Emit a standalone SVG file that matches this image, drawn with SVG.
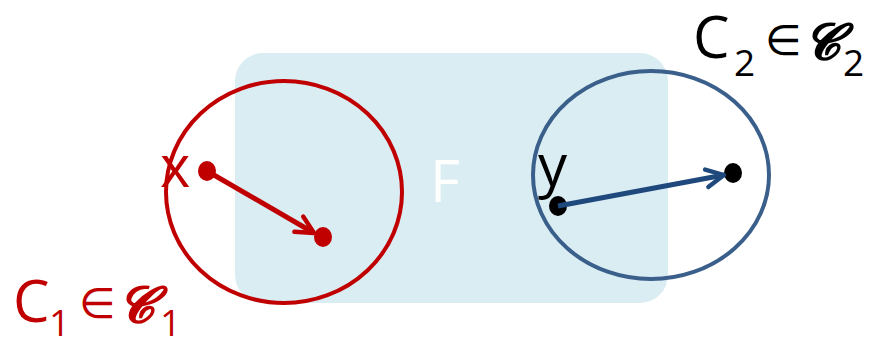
<svg xmlns="http://www.w3.org/2000/svg" width="877" height="340" viewBox="0 0 877 340">
<defs>
<style>
.lbl{font-family:"Open Sans","Liberation Sans",sans-serif;font-size:58px}
.red{fill:#C00000}
.blk{fill:#000}
.sub{font-size:37px}
.el{font-family:"DejaVu Sans",sans-serif;font-size:42px}
.scr{font-family:"DejaVu Serif","Noto Sans",serif;font-weight:bold;font-style:italic;font-size:50px}
</style>
<marker id="ahr" viewBox="0 0 20 20" refX="18" refY="10" markerWidth="22" markerHeight="22" markerUnits="userSpaceOnUse" orient="auto" overflow="visible">
<path d="M2,2 L18,10 L2,18" fill="none" stroke="#C00000" stroke-width="4" stroke-linecap="round" stroke-linejoin="round"/>
</marker>
<marker id="ahb" viewBox="0 0 20 20" refX="18" refY="10" markerWidth="22" markerHeight="22" markerUnits="userSpaceOnUse" orient="auto" overflow="visible">
<path d="M2,2 L18,10 L2,18" fill="none" stroke="#1F497D" stroke-width="4" stroke-linecap="round" stroke-linejoin="round"/>
</marker>
</defs>
<rect width="877" height="340" fill="#fff"/>
<g id="F">
<rect x="235" y="53" width="433" height="250" rx="28" fill="#DAEDF3"/>
<text x="430" y="202" class="lbl" fill="#fff" font-size="62">F</text>
</g>
<g id="C1">
<ellipse cx="284" cy="192" rx="118" ry="111" fill="none" stroke="#C00000" stroke-width="4"/>
<text x="160" y="187" class="lbl red" font-size="62">x</text>
<ellipse cx="207" cy="171" rx="9" ry="10" class="red"/>
<ellipse cx="323" cy="237" rx="9" ry="10" class="red"/>
</g>
<g id="C2">
<ellipse cx="651" cy="175" rx="118" ry="104" fill="none" stroke="#3A5F8B" stroke-width="4"/>
<text x="538" y="186" class="lbl blk" font-size="62">y</text>
<ellipse cx="558" cy="206" rx="9" ry="10" class="blk"/>
<ellipse cx="733" cy="173" rx="9" ry="10" class="blk"/>
</g>
<g id="connectors">
<line x1="207" y1="171" x2="314" y2="233" stroke="#C00000" stroke-width="5" marker-end="url(#ahr)"/>
<line x1="558" y1="206" x2="724" y2="175" stroke="#1F497D" stroke-width="5" marker-end="url(#ahb)"/>
</g>
<g id="label1">
<text class="lbl red"><tspan x="13" y="322">C</tspan><tspan class="sub" x="49" y="336">1</tspan><tspan class="el" x="79" y="318">∈</tspan><tspan class="scr" x="118" y="322">𝓒</tspan><tspan class="sub" x="160" y="336">1</tspan></text>
</g>
<g id="label2">
<text class="lbl blk"><tspan x="693" y="58">C</tspan><tspan class="sub" x="734" y="76">2</tspan><tspan class="el" x="765" y="55">∈</tspan><tspan class="scr" x="804" y="59">𝓒</tspan><tspan class="sub" x="843" y="76">2</tspan></text>
</g>
</svg>
